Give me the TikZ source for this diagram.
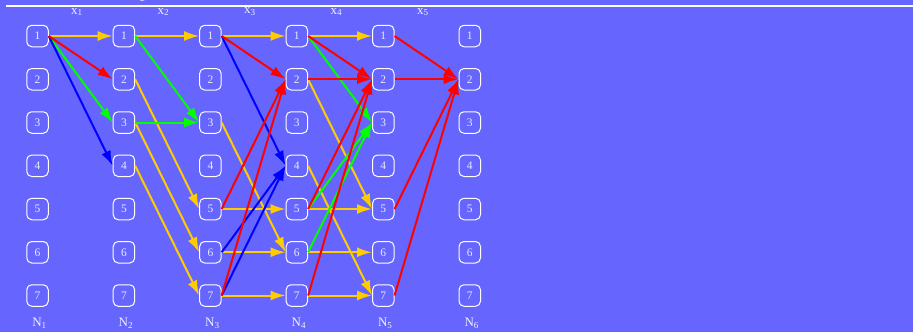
\documentclass[tikz,border=0pt]{standalone}
\usepackage{fontspec}
\setmainfont{Liberation Serif}
\usetikzlibrary{arrows.meta}
\definecolor{bg}{HTML}{6666FF}
\definecolor{ylw}{HTML}{FFCC00}
\definecolor{rd}{HTML}{FF0000}
\definecolor{grn}{HTML}{00FF00}
\definecolor{blu}{HTML}{0000FF}
\begin{document}
\begin{tikzpicture}[x=1pt,y=-1pt,
  state/.style={draw=white, line width=1pt, rounded corners=5pt,
    minimum width=21.5pt, minimum height=21.5pt, inner sep=0pt,
    text=white!85!bg, font=\fontsize{11.5}{12}\selectfont},
  lbl/.style={text=white!90!bg, font=\fontsize{13}{15}\selectfont, inner sep=0pt},
  link/.style={line width=2pt, -{Latex[length=15pt,width=10pt]}}]
\fill[bg] (0,0) rectangle (913,332);
\useasboundingbox (0,0) rectangle (913,332);
\draw[white, line width=1.8pt] (6,5.6) -- (913,5.6);
\node[lbl] (top) at (142,-1) {c};

% stage states
\foreach \c in {1,...,6}
  \foreach \r in {1,...,7}
    \node[state] (n\c\r) at ({37.5+86.45*(\c-1)}, {36+43.25*(\r-1)}) {\r};

% stage names and decision variables
\foreach \c in {1,...,6}
  \node[lbl] (N\c) at ({39.5+86.45*(\c-1)}, 323) {N\textsubscript{\c}};
\foreach \c in {1,...,5}
  \node[lbl] (x\c) at ({77+86.45*(\c-1)}, 12) {x\textsubscript{\c}};

% transitions
\foreach \a/\b in {11/21,21/31,22/35,23/36,24/37,31/41,33/46,35/45,36/46,37/47,
                   41/51,42/55,44/57,45/55,46/56,47/57}
  \draw[link, ylw] (n\a.east) -- (n\b.west);
\foreach \a/\b in {11/23,21/33,23/33,41/53,45/53,46/53}
  \draw[link, grn] (n\a.east) -- (n\b.west);
\foreach \a/\b in {11/24,31/44,36/44,37/44}
  \draw[link, blu] (n\a.east) -- (n\b.west);
\foreach \a/\b in {11/22,31/42,35/42,37/42,41/52,42/52,45/52,47/52,
                   51/62,52/62,55/62,57/62}
  \draw[link, rd] (n\a.east) -- (n\b.west);
\end{tikzpicture}
\end{document}
